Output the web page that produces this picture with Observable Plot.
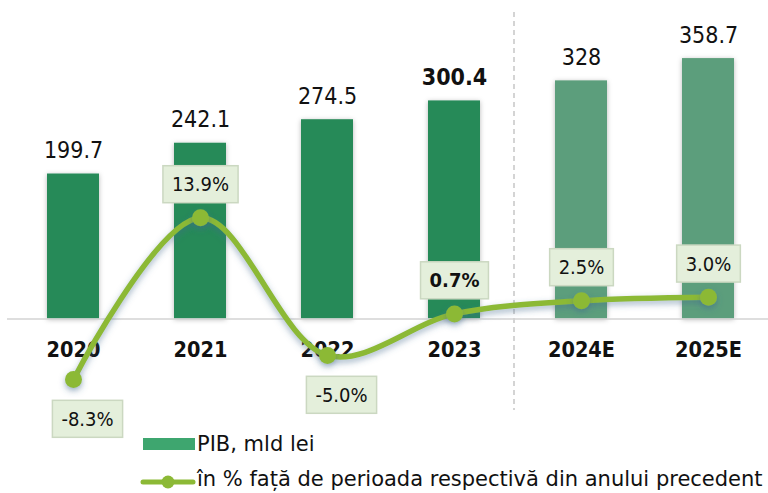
<!DOCTYPE html>
<html><head><meta charset="utf-8">
<script src="https://cdn.jsdelivr.net/npm/d3@7"></script>
<script src="https://cdn.jsdelivr.net/npm/@observablehq/plot@0.6"></script>
<style>
html,body{margin:0;padding:0;background:#fff;}
#wrap{position:relative;width:768px;height:493px;overflow:hidden;}
#wrap svg.layer{position:absolute;left:0;top:0;}
.leg{position:absolute;font-family:"DejaVu Sans",sans-serif;font-size:21px;line-height:24px;color:#111;white-space:nowrap;}
</style></head><body><div id="wrap"></div>
<script>
// ---- data ----
const years = ["2020", "2021", "2022", "2023", "2024E", "2025E"];
const pib = [199.7, 242.1, 274.5, 300.4, 328, 358.7];
const growth = [-8.3, 13.9, -5.0, 0.7, 2.5, 3.0];
const legendLabels = ["PIB, mld lei", "în % față de perioada respectivă din anului precedent"];

const rows = years.map((year, i) => ({year, pib: pib[i], growth: growth[i]}));
const isForecast = d => d.year.endsWith("E");
const highlight = "2023";
const pct = d => d.growth.toFixed(1) + "%";

const cond = "DejaVu Sans Condensed, DejaVu Sans, sans-serif";
const xOpts = {domain: years, range: [7, 774], paddingInner: 0.59, paddingOuter: 0.295, axis: null};
const base = 318.5;
const dims = {width: 768, height: 437, marginTop: 12, marginBottom: 27, marginLeft: 7, marginRight: 0,
  style: {background: "transparent", overflow: "visible"}};

const barsSvg = Plot.plot({
  ...dims,
  x: xOpts,
  y: {domain: [0, 400], range: [base, base - 400 * 0.726], axis: null},
  marks: [
    Plot.ruleX(["2024E"], {x: d => d, dx: -67.5, stroke: "#b8b8b8", strokeWidth: 1.2, strokeDasharray: "5,4"}),
    Plot.barY(rows, {filter: d => !isForecast(d), x: "year", y: "pib", fill: "#268a58"}),
    Plot.barY(rows, {filter: isForecast, x: "year", y: "pib", fill: "#5c9e7b"}),
    Plot.ruleY([0], {stroke: "#d3d3d3", strokeWidth: 1.6}),
    Plot.text(rows, {filter: d => d.year !== highlight, x: "year", y: "pib", text: d => String(d.pib),
      dy: -16, lineAnchor: "bottom", fontSize: 23, fontFamily: cond, fill: "#111"}),
    Plot.text(rows, {filter: d => d.year === highlight, x: "year", y: "pib", text: d => String(d.pib),
      dy: -16, lineAnchor: "bottom", fontSize: 23, fontFamily: cond, fontWeight: "bold", fill: "#111"}),
    Plot.text(rows, {x: "year", y: () => 0, text: "year", dy: 38, lineAnchor: "bottom",
      fontSize: 21.5, fontFamily: cond, fontWeight: "bold", fill: "#111"})
  ]
});

const lineSvg = Plot.plot({
  ...dims,
  x: xOpts,
  y: {domain: [-10, 20], range: [base + 10 * 7.28, base - 20 * 7.28], axis: null},
  marks: [
    Plot.line(rows, {x: "year", y: "growth", curve: "catmull-rom", stroke: "#8cb936", strokeWidth: 5.5}),
    Plot.dot(rows, {x: "year", y: "growth", r: 8.5, fill: "#8cb936", stroke: "none"}),
    Plot.text(rows, {filter: d => d.growth >= 0 && d.year !== highlight, x: "year", y: "growth", text: pct,
      dy: -33, fontSize: 20, fontFamily: cond, fill: "#111"}),
    Plot.text(rows, {filter: d => d.year === highlight, x: "year", y: "growth", text: pct,
      dy: -33, fontSize: 20, fontFamily: cond, fontWeight: "bold", fill: "#111"}),
    Plot.text(rows, {filter: d => d.growth < 0, x: "year", y: "growth", text: pct,
      dx: 14, dy: 40, fontSize: 20, fontFamily: cond, fill: "#111"})
  ]
});

const wrap = document.getElementById("wrap");
barsSvg.classList.add("layer");
lineSvg.classList.add("layer");
wrap.appendChild(barsSvg);
wrap.appendChild(lineSvg);

// shadows
d3.select(barsSvg).insert("defs", ":first-child").html(
  '<filter id="bsh" x="-30%" y="-10%" width="160%" height="120%"><feDropShadow dx="0" dy="1" stdDeviation="2.5" flood-color="#000" flood-opacity="0.28"/></filter>');
d3.select(barsSvg).selectAll('g[aria-label="bar"]').attr("filter", "url(#bsh)");
d3.select(lineSvg).insert("defs", ":first-child").html(
  '<filter id="lgl" x="-10%" y="-30%" width="120%" height="160%"><feDropShadow dx="0" dy="3" stdDeviation="3" flood-color="#41688c" flood-opacity="0.5"/></filter>');
d3.select(lineSvg).selectAll('g[aria-label="line"], g[aria-label="dot"]').attr("filter", "url(#lgl)");

// label boxes behind percentage texts
d3.select(lineSvg).selectAll('g[aria-label="text"] text').each(function() {
  const b = this.getBBox();
  const r = document.createElementNS("http://www.w3.org/2000/svg", "rect");
  r.setAttribute("x", b.x - 9);
  r.setAttribute("y", b.y - 6.5);
  r.setAttribute("width", b.width + 18);
  r.setAttribute("height", b.height + 13);
  r.setAttribute("fill", "#e4efdb");
  r.setAttribute("stroke", "#cbd8c1");
  r.setAttribute("stroke-width", "1.5");
  const t = this.getAttribute("transform");
  if (t) r.setAttribute("transform", t);
  this.parentNode.insertBefore(r, this);
});

// legend
const sw = document.createElement("div");
sw.style.cssText = "position:absolute;left:143px;top:438px;width:52px;height:12px;background:#3ea66f;";
wrap.appendChild(sw);
const l1 = document.createElement("div");
l1.className = "leg"; l1.style.left = "197px"; l1.style.top = "432px"; l1.textContent = legendLabels[0];
wrap.appendChild(l1);
const ls = d3.create("svg").attr("width", 56).attr("height", 18)
  .style("position", "absolute").style("left", "140px").style("top", "473px");
ls.append("line").attr("x1", 3).attr("x2", 53).attr("y1", 9).attr("y2", 9)
  .attr("stroke", "#8cb936").attr("stroke-width", 5).attr("stroke-linecap", "round");
ls.append("circle").attr("cx", 28).attr("cy", 9).attr("r", 6.5).attr("fill", "#8cb936");
wrap.appendChild(ls.node());
const l2 = document.createElement("div");
l2.className = "leg"; l2.style.left = "197px"; l2.style.top = "467px"; l2.textContent = legendLabels[1];
wrap.appendChild(l2);
</script></body></html>
